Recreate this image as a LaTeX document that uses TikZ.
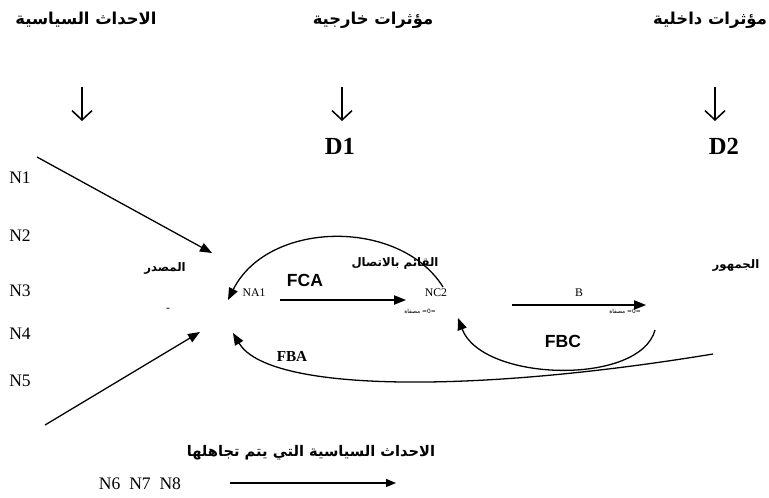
\documentclass[tikz,border=0pt]{standalone}
\usepackage{fontspec}
\setmainfont{Liberation Serif}
\newfontfamily\arabicfont[Script=Arabic]{DejaVu Sans}
\newfontfamily\latinsans{Liberation Sans}
\TeXXeTstate=1
\usetikzlibrary{arrows.meta}

\tikzset{
    artitle/.style = {font=\arabicfont\bfseries\fontsize{14}{16}\selectfont, inner sep=0pt},
    arlabel/.style = {font=\arabicfont\bfseries\fontsize{10}{12}\selectfont, inner sep=0pt},
    artiny/.style = {font=\arabicfont\fontsize{5}{6}\selectfont, inner sep=0pt},
    dlabel/.style = {font=\bfseries\fontsize{21}{24}\selectfont, inner sep=0pt},
    nlabel/.style = {font=\fontsize{15}{17}\selectfont, inner sep=0pt},
    smalllabel/.style = {font=\fontsize{10}{12}\selectfont, inner sep=0pt},
    flabel/.style = {font=\latinsans\bfseries\fontsize{15}{17}\selectfont, inner sep=0pt},
    flow/.style = {-{Triangle[length=3.6mm,width=2.8mm]}, line width=1.1pt},
    influence/.style = {-{Straight Barb[length=2.8mm,width=6mm]}, line width=1.3pt}
}

\begin{document}
\begin{tikzpicture}[x=0.03cm, y=-0.03cm]
    \useasboundingbox (0,0) rectangle (769,497);

    % titles
    \node[artitle] (events) at (86,20) {\beginR الاحداث السياسية\endR};
    \node[artitle] (external) at (373,20) {\beginR مؤثرات خارجية\endR};
    \node[artitle] (internal) at (710,20) {\beginR مؤثرات داخلية\endR};

    \node[dlabel] (d1) at (340,146) {D1};
    \node[dlabel] (d2) at (724,146) {D2};

    \coordinate (events down) at (82,87);
    \coordinate (events end) at (82,121);
    \coordinate (external down) at (342,87);
    \coordinate (external end) at (342,121);
    \coordinate (internal down) at (715,87);
    \coordinate (internal end) at (715,121);
    \draw[influence] (events down) -- (events end);
    \draw[influence] (external down) -- (external end);
    \draw[influence] (internal down) -- (internal end);

    % news items
    \node[nlabel] (n1) at (20,178) {N1};
    \node[nlabel] (n2) at (20,236) {N2};
    \node[nlabel] (n3) at (20,291) {N3};
    \node[nlabel] (n4) at (20,334) {N4};
    \node[nlabel] (n5) at (20,381) {N5};

    \coordinate (n1 start) at (37,157);
    \coordinate (source in) at (212,253);
    \coordinate (n5 start) at (45,425);
    \coordinate (source low) at (200,332);
    \draw[flow] (n1 start) -- (source in);
    \draw[flow] (n5 start) -- (source low);

    % source, communicator, audience
    \node[arlabel] (source) at (165,268) {\beginR المصدر\endR};
    \node[smalllabel] (dash) at (168,310) {-};
    \node[smalllabel] (na1) at (254,293) {NA1};
    \node[arlabel] (communicator) at (395,263) {\beginR القائم بالاتصال\endR};
    \node[smalllabel] (nc2) at (436,293) {NC2};
    \node[artiny] (filter1) at (420,311) {\beginR =0= مصفاة\endR};
    \node[arlabel] (audience) at (736,265) {\beginR الجمهور\endR};
    \node[artiny] (filter2) at (625,311) {\beginR =0= مصفاة\endR};

    \coordinate (a out) at (280,300);
    \coordinate (c in) at (406,300);
    \draw[flow] (a out) -- (c in);

    \coordinate (c out) at (512,305);
    \coordinate (b in) at (646,305);
    \draw[flow] (c out) -- node[smalllabel, above=7pt] (b) {B} (b in);

    % feedback
    \coordinate (fca start) at (443,287);
    \coordinate (fca end) at (228,300);
    \draw[flow] (fca start) .. controls (400,218) and (268,220) .. (fca end);
    \node[flabel] (fca) at (305,280) {FCA};

    \coordinate (fbc start) at (655,330);
    \coordinate (fbc end) at (458,318);
    \draw[flow] (fbc start) .. controls (640,386) and (482,382) .. (fbc end);
    \node[flabel] (fbc) at (563,341) {FBC};

    \coordinate (fba start) at (713,354);
    \coordinate (fba end) at (233,333);
    \draw[flow] (fba start) .. controls (470,394) and (268,392) .. (fba end);
    \node[font=\bfseries\fontsize{13}{15}\selectfont, inner sep=0pt] (fba) at (292,356) {FBA};

    % ignored events
    \node[font=\arabicfont\bfseries\fontsize{12.5}{15}\selectfont, inner sep=0pt] (ignored) at (311,453) {\beginR الاحداث السياسية التي يتم تجاهلها\endR};
    \node[nlabel] (n678) at (140,484) {N6~~N7~~N8};
    \coordinate (ignored start) at (230,483);
    \coordinate (ignored end) at (396,483);
    \draw[-{Triangle[length=3mm,width=2.4mm]}, line width=1.1pt] (ignored start) -- (ignored end);
\end{tikzpicture}
\end{document}
